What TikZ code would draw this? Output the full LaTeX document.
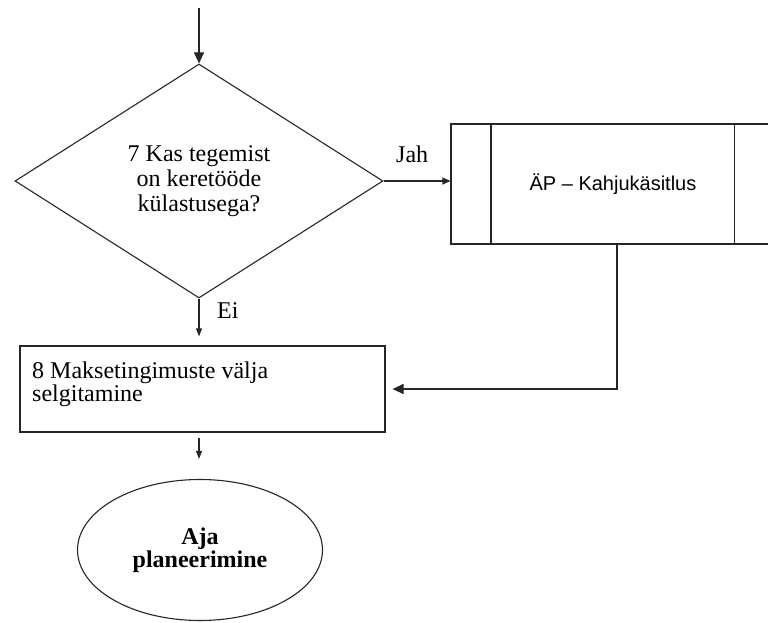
\documentclass[tikz,border=0pt]{standalone}
\usepackage{fontspec}
\setmainfont{Liberation Serif}
\newfontfamily\arialfont{Liberation Sans}
\usetikzlibrary{shapes.geometric,arrows.meta}

\tikzset{
  line/.style={draw=black!85, line width=1.1pt},
  serif/.style={font=\fontsize{24}{25}\selectfont, inner sep=0pt},
  lbl/.style={font=\fontsize{24}{24}\selectfont, inner sep=0pt},
  decision/.style={line, diamond, aspect=1.57, minimum width=368pt, minimum height=234pt,
                   inner sep=0pt, align=center, font=\fontsize{24}{25}\selectfont},
  subproc/.style={line, rectangle, minimum width=324pt, minimum height=120pt, inner sep=0pt,
                  font=\arialfont\fontsize{20}{22}\selectfont},
  stepbox/.style={line, rectangle, minimum width=365pt, minimum height=86pt, inner sep=0pt},
  terminal/.style={line, ellipse, minimum width=245pt, minimum height=141pt, inner sep=0pt,
                   align=center, font=\bfseries\fontsize{24}{21}\selectfont},
  bigtip/.style={-{Triangle[length=11pt,width=10pt]}},
  smalltip/.style={-{Triangle[length=8pt,width=6pt]}},
}

\begin{document}
\begin{tikzpicture}[x=1pt, y=-1pt]
  \useasboundingbox (0,0) rectangle (768,623);
  \clip (0,0) rectangle (768,623);

  % decision 7
  \node[decision] (dia) at (199,181) {7 Kas tegemist\\on keretööde\\külastusega?};

  % predefined process (extends past the right edge)
  \node[subproc] (proc) at (613,184) {ÄP – Kahjukäsitlus};
  \draw[line] ([xshift=40.5pt]proc.north west) -- ([xshift=40.5pt]proc.south west);
  \draw[line] ([xshift=-41pt]proc.north east) -- ([xshift=-41pt]proc.south east);

  % step 8
  \node[stepbox] (box8) at (202.5,389) {};
  \node[serif, anchor=north west, align=left, font=\fontsize{24}{20}\selectfont]
       (box8text) at (32,361.5) {8 Maksetingimuste välja\\selgitamine};

  % end
  \node[terminal] (ell) at (200,550) {Aja\\planeerimine};

  % incoming arrow
  \coordinate (start) at (199,8);
  \draw[line, bigtip] (start) -- (dia.north);

  % Jah branch
  \draw[line, -{Triangle[length=8pt,width=7pt]}] (dia.east) -- (dia.east -| proc.west);
  \node[lbl, anchor=base west] (jah) at (396,162) {Jah};

  % Ei branch
  \draw[line, smalltip, shorten >=9pt] (dia.south) -- (box8.north -| dia.south);
  \node[lbl, anchor=base west] (ei) at (217,318) {Ei};

  % return from subprocess
  \draw[line, bigtip, shorten >=7pt] ([xshift=4pt]proc.south) |- (box8.east);

  % to end
  \draw[line, -{Triangle[length=8pt,width=6pt]}, shorten <=5pt, shorten >=20pt]
       (box8.south -| dia.south) -- (ell.north -| dia.south);
\end{tikzpicture}
\end{document}
